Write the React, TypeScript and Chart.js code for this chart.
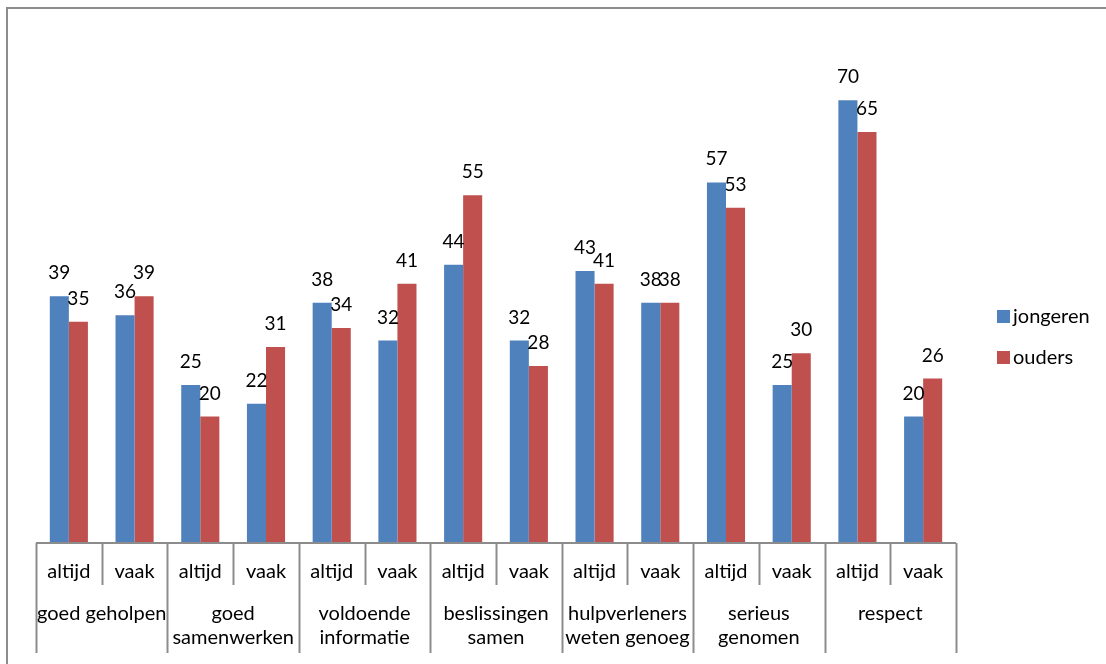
import React, { useEffect, useRef } from "react";
import { Chart, registerables } from "chart.js";

Chart.register(...registerables);

const subLabels = ["altijd", "vaak", "altijd", "vaak", "altijd", "vaak", "altijd", "vaak", "altijd", "vaak", "altijd", "vaak", "altijd", "vaak"];
const groupLabels: string[][] = [
  ["goed geholpen"],
  ["goed", "samenwerken"],
  ["voldoende", "informatie"],
  ["beslissingen", "samen"],
  ["hulpverleners", "weten genoeg"],
  ["serieus", "genomen"],
  ["respect"],
];
const seriesNames = ["jongeren", "ouders"];
const jongeren = [39, 36, 25, 22, 38, 32, 44, 32, 43, 38, 57, 25, 70, 20];
const ouders = [35, 39, 20, 31, 34, 41, 55, 28, 41, 38, 53, 30, 65, 26];
const colors = ["#4F81BD", "#C0504D"];

const FONT = "Lato, Carlito, Calibri, sans-serif";

const customPlugin = {
  id: "custom",
  afterDatasetsDraw(chart: any) {
    const ctx = chart.ctx;
    ctx.save();
    ctx.fillStyle = "#000";
    ctx.font = `19px ${FONT}`;
    ctx.textAlign = "center";
    ctx.textBaseline = "alphabetic";
    chart.data.datasets.forEach((ds: any, di: number) => {
      const meta = chart.getDatasetMeta(di);
      meta.data.forEach((el: any, i: number) => {
        ctx.fillText(String(ds.data[i]), el.x, el.y - 17);
      });
    });
    ctx.restore();
  },
  afterDraw(chart: any) {
    const ctx = chart.ctx;
    const xs = chart.scales.x;
    const area = chart.chartArea;
    const n = subLabels.length;
    const step = (xs.right - xs.left) / n;
    const base = area.bottom;
    ctx.save();
    ctx.strokeStyle = "#8c8c8c";
    ctx.lineWidth = 2;
    ctx.beginPath();
    ctx.moveTo(xs.left, base);
    ctx.lineTo(xs.right, base);
    ctx.stroke();
    for (let i = 0; i <= n; i++) {
      const bx = Math.round(xs.left + i * step) + 0.5;
      const end = i % 2 === 0 ? base + 110 : base + 42;
      ctx.beginPath();
      ctx.moveTo(bx, base);
      ctx.lineTo(bx, end);
      ctx.stroke();
    }
    ctx.fillStyle = "#000";
    ctx.font = `20px ${FONT}`;
    ctx.textAlign = "center";
    ctx.textBaseline = "middle";
    subLabels.forEach((lbl, i) => {
      const cx = xs.getPixelForValue(i);
      ctx.fillText(lbl, cx, base + 29);
    });
    groupLabels.forEach((lines, g) => {
      const cx = xs.left + (g * 2 + 1) * step;
      lines.forEach((line, li) => {
        ctx.fillText(line, cx, base + 71 + li * 24);
      });
    });
    // legend
    ctx.textAlign = "left";
    seriesNames.forEach((name, i) => {
      const y = 317 + i * 41;
      ctx.fillStyle = colors[i];
      ctx.fillRect(997, y - 7, 13, 13);
      ctx.fillStyle = "#000";
      ctx.fillText(name, 1013, y);
    });
    ctx.restore();
  },
};

export default function App() {
  const ref = useRef<HTMLCanvasElement>(null);
  useEffect(() => {
    if (!ref.current) return;
    const chart = new Chart(ref.current, {
      type: "bar",
      data: {
        labels: subLabels,
        datasets: [
          { label: seriesNames[0], data: jongeren, backgroundColor: colors[0], borderWidth: 0 },
          { label: seriesNames[1], data: ouders, backgroundColor: colors[1], borderWidth: 0 },
        ],
      },
      options: {
        responsive: false,
        animation: false,
        layout: { padding: { left: 36, right: 150, top: 37, bottom: 121 } },
        plugins: { legend: { display: false }, tooltip: { enabled: false } },
        datasets: { bar: { categoryPercentage: 0.58, barPercentage: 1 } },
        scales: {
          x: { display: false },
          y: { display: false, min: 0, max: 80 },
        },
      },
      plugins: [customPlugin],
    });
    return () => chart.destroy();
  }, []);
  return (
    <div style={{ position: "fixed", left: 0, top: 0, width: 1106, height: 664, background: "#fff" }}>
      <canvas ref={ref} width={1106} height={664} style={{ display: "block" }} />
      <div
        style={{
          position: "absolute",
          left: 6,
          top: 7,
          width: 1200,
          height: 800,
          borderLeft: "2px solid #8c8c8c",
          borderTop: "2px solid #8c8c8c",
          pointerEvents: "none",
        }}
      />
    </div>
  );
}
